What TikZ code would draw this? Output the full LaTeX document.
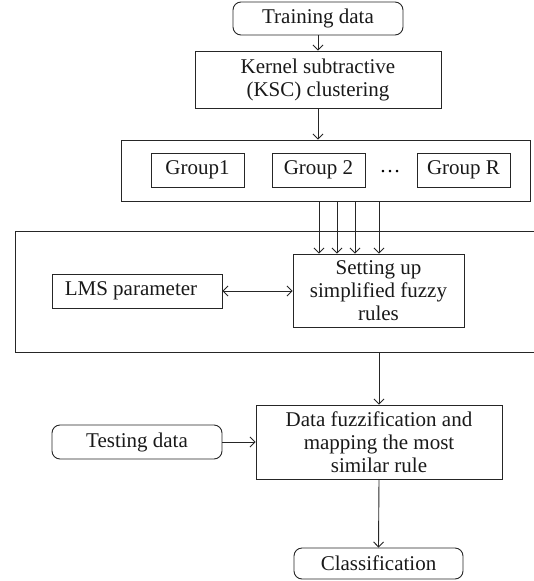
\documentclass[tikz,border=0pt]{standalone}
\usepackage{fontspec}
\setmainfont{Liberation Serif}
\usetikzlibrary{arrows.meta}
\tikzset{
  box/.style={draw=black!85, line width=0.9pt, inner sep=0pt, align=center, font=\fontsize{21}{23}\selectfont, text=black!90},
  rbox/.style={box, rounded corners=8pt},
  arr/.style={draw=black!85, line width=0.9pt, -{Straight Barb[length=5pt,width=10pt]}},
  darr/.style={draw=black!85, line width=0.9pt, {Straight Barb[length=5pt,width=10pt]}-{Straight Barb[length=5pt,width=10pt]}},
}
\begin{document}
\begin{tikzpicture}[x=1pt,y=-1pt]
\useasboundingbox (0,0) rectangle (534,581);
\clip (0,0) rectangle (534,581);
% nodes
\node[rbox, minimum width=170pt, minimum height=33pt] (train) at (318,18.5) {Training data};
\node[box, minimum width=246pt, minimum height=57pt] (kernel) at (318,79.5) {Kernel subtractive\\(KSC) clustering};
\node[box, minimum width=409pt, minimum height=61pt] (gcont) at (325.5,170.5) {};
\node[box, minimum width=93pt, minimum height=34pt] (g1) at (197.5,170) {Group1};
\node[box, minimum width=93pt, minimum height=34pt] (g2) at (318.5,170) {Group 2};
\node[font=\fontsize{21}{23}\selectfont, inner sep=0pt] (dots) at (390,172) {\dots};
\node[box, minimum width=93pt, minimum height=34pt] (gR) at (463.5,170) {Group R};
\node[box, minimum width=540pt, minimum height=121pt] (bigc) at (285,291.5) {};
\node[box, minimum width=170pt, minimum height=34pt] (lms) at (137,291) {LMS parameter\hspace*{12pt}};
\node[box, minimum width=171pt, minimum height=73pt] (setting) at (378.5,290.5) {Setting up\\simplified fuzzy\\rules};
\node[rbox, minimum width=170pt, minimum height=34pt] (test) at (137,442) {Testing data};
\node[box, minimum width=246pt, minimum height=74pt] (fuzz) at (379,442) {Data fuzzification and\\mapping the most\\similar rule};
\node[rbox, minimum width=169pt, minimum height=31pt] (cls) at (378.5,563.5) {Classification};
% helper coordinates
\coordinate (v1) at (319,0);
\coordinate (v2) at (337,0);
\coordinate (v3) at (355,0);
\coordinate (v4) at (379,0);
% connectors
\draw[arr] (train.south) -- (kernel.north);
\draw[arr] (kernel.south) -- (kernel.south |- gcont.north);
\draw[arr] (gcont.south -| v1) -- (setting.north -| v1);
\draw[arr] (gcont.south -| v2) -- (setting.north -| v2);
\draw[arr] (gcont.south -| v3) -- (setting.north -| v3);
\draw[arr] (gcont.south -| v4) -- (setting.north -| v4);
\draw[darr] (lms.east) -- (setting.west |- lms.east);
\draw[arr] (fuzz.north |- bigc.south) -- (fuzz.north);
\draw[arr] (test.east) -- (fuzz.west |- test.east);
\draw[arr] (fuzz.south) -- (cls.north);
\end{tikzpicture}
\end{document}
